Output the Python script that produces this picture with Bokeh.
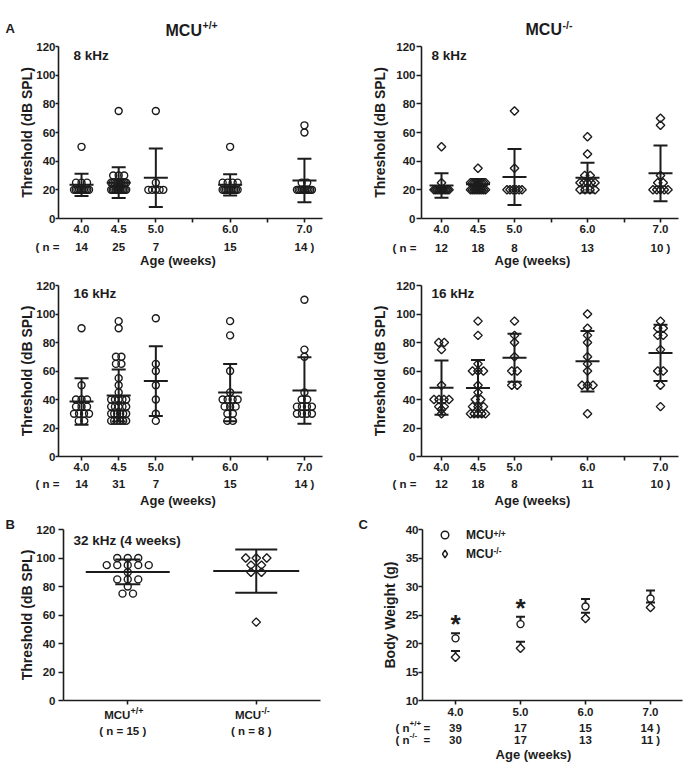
import math
from collections import Counter, defaultdict

from bokeh.plotting import figure
from bokeh.models import Label, FixedTicker, PrintfTickFormatter, Range1d, Legend, LegendItem, Title
from bokeh.layouts import column, row
from bokeh.core.properties import value
from bokeh.embed import file_html
from bokeh.resources import INLINE

FONT = "Liberation Sans"
INK = "#1c1c1c"

# ---------------- data ----------------
ages = [4.0, 4.5, 5.0, 6.0, 7.0]
age_minor = [5.5, 6.5]
thr_ticks = [0, 20, 40, 60, 80, 100, 120]

# A: 8 kHz, MCU+/+
thr8_wt = [
    [50, 25, 25, 25, 20, 20, 20, 20, 20, 20, 20, 20, 20, 20],
    [75, 30, 30, 30, 25, 25, 25, 25, 25, 25, 25, 25, 25, 25, 20, 20, 20, 20, 20, 20, 20, 20, 20, 20, 20],
    [75, 25, 20, 20, 20, 20, 20],
    [50, 25, 25, 25, 25, 20, 20, 20, 20, 20, 20, 20, 20, 20, 20],
    [65, 60, 25, 25, 20, 20, 20, 20, 20, 20, 20, 20, 20, 20],
]
thr8_wt_mean = [23.5, 25.0, 28.5, 23.5, 26.5]
thr8_wt_sd = [7.8, 10.7, 20.4, 7.4, 15.2]
thr8_wt_n = [14, 25, 7, 15, 14]

# A: 8 kHz, MCU-/-
thr8_ko = [
    [50, 25, 20, 20, 20, 20, 20, 20, 20, 20, 20, 20],
    [35, 25, 25, 25, 25, 25, 25, 25, 25, 20, 20, 20, 20, 20, 20, 20, 20, 20],
    [75, 35, 20, 20, 20, 20, 20, 20],
    [57, 45, 30, 30, 25, 25, 25, 25, 25, 20, 20, 20, 20],
    [70, 65, 30, 25, 25, 20, 20, 20, 20, 20],
]
thr8_ko_mean = [23.0, 23.9, 29.0, 28.5, 31.5]
thr8_ko_sd = [8.5, 3.6, 19.5, 10.4, 19.5]
thr8_ko_n = [12, 18, 8, 13, 10]

# A: 16 kHz, MCU+/+
thr16_wt = [
    [90, 50, 40, 40, 40, 35, 35, 35, 30, 30, 30, 30, 25, 25],
    [95, 90, 70, 70, 65, 65, 55, 50, 45, 40, 40, 40, 40, 40, 35, 35, 35, 35, 35,
     30, 30, 30, 30, 30, 30, 25, 25, 25, 25, 25, 25],
    [97, 65, 60, 50, 40, 30, 25],
    [95, 85, 60, 45, 40, 40, 40, 40, 35, 35, 35, 30, 30, 25, 25],
    [110, 75, 70, 45, 40, 40, 35, 35, 35, 35, 30, 30, 30, 30],
]
thr16_wt_mean = [38.6, 42.8, 52.9, 44.9, 46.3]
thr16_wt_sd = [16.4, 18.3, 24.5, 20.1, 23.4]
thr16_wt_n = [14, 31, 7, 15, 14]

# A: 16 kHz, MCU-/-
thr16_ko = [
    [80, 80, 75, 50, 40, 40, 40, 40, 35, 35, 33, 30],
    [95, 85, 65, 60, 60, 60, 50, 45, 40, 40, 35, 35, 35, 30, 30, 30, 30, 30],
    [95, 85, 80, 70, 60, 60, 50, 50],
    [100, 90, 85, 80, 70, 65, 60, 50, 50, 50, 30],
    [95, 90, 90, 85, 85, 75, 60, 60, 50, 35],
]
thr16_ko_mean = [48.3, 48.0, 69.3, 66.8, 72.7]
thr16_ko_sd = [19.0, 19.7, 16.8, 21.2, 19.8]
thr16_ko_n = [12, 18, 8, 11, 10]

# B: 32 kHz at 4 weeks
b_groups = ["+/+", "-/-"]
thr32 = [
    [100, 100, 100, 95, 95, 95, 95, 95, 90, 85, 85, 85, 80, 75, 75],
    [100, 100, 100, 95, 95, 90, 90, 55],
]
thr32_mean = [90.2, 90.8]
thr32_sd = [8.7, 15.2]
thr32_n = [15, 8]

# C: body weight (mean + SEM)
c_ages = [4.0, 5.0, 6.0, 7.0]
bw_ticks = [10, 15, 20, 25, 30, 35, 40]
bw_wt_mean = [20.9, 23.4, 26.5, 27.9]
bw_wt_sem = [0.9, 1.3, 1.3, 1.4]
bw_ko_mean = [17.6, 19.15, 24.4, 26.3]
bw_ko_sem = [1.1, 1.15, 1.0, 0.9]
bw_wt_n = [39, 17, 15, 14]
bw_ko_n = [30, 17, 13, 11]
bw_sig_ages = [4.0, 5.0]


# ---------------- helpers ----------------
def swarm(vals, center, ppu, step_px, max_px):
    counts = Counter(vals)
    seen = defaultdict(int)
    out = []
    for v in vals:
        k = counts[v]
        i = seen[v]
        seen[v] += 1
        step = min(step_px, max_px / (k - 1)) if k > 1 else 0.0
        out.append(center + (i - (k - 1) / 2.0) * step / ppu)
    return out


def make_fig(w, h, l, r, t, b, xr, yr, ytick_out, ylab_standoff, ytitle_standoff):
    p = figure(width=w, height=h, x_range=Range1d(*xr), y_range=Range1d(*yr),
               output_backend="svg", toolbar_location=None,
               min_border_left=l, min_border_right=r, min_border_top=t, min_border_bottom=b)
    p.outline_line_color = None
    p.xgrid.visible = False
    p.ygrid.visible = False
    p.background_fill_color = "white"
    p.border_fill_color = "white"
    for ax in (p.xaxis[0], p.yaxis[0]):
        ax.axis_line_color = INK
        ax.axis_line_width = 1.6
        ax.major_tick_line_color = INK
        ax.major_tick_line_width = 1.6
        ax.major_tick_in = 0
        ax.major_tick_out = 4
        ax.minor_tick_line_color = INK
        ax.minor_tick_line_width = 1.6
        ax.minor_tick_in = 0
        ax.minor_tick_out = 4
        ax.major_label_text_font = FONT
        ax.major_label_text_font_style = "bold"
        ax.major_label_text_font_size = "11.5px"
        ax.major_label_text_color = INK
        ax.axis_label_text_font = FONT
        ax.axis_label_text_font_style = "bold"
        ax.axis_label_text_color = INK
        ax.axis_label_text_font_size = "14px"
    p.yaxis[0].major_tick_out = ytick_out
    p.yaxis[0].major_label_standoff = ylab_standoff
    p.yaxis[0].axis_label_standoff = ytitle_standoff
    p.xaxis[0].major_label_standoff = 2
    return p


def band(w, h, x0=0.0, ppu=1.0):
    p = figure(width=w, height=h, x_range=Range1d(x0, x0 + w / ppu), y_range=Range1d(0, h),
               x_axis_type=None, y_axis_type=None, output_backend="svg", toolbar_location=None,
               min_border_left=0, min_border_right=0, min_border_top=0, min_border_bottom=0)
    p.outline_line_color = None
    p.background_fill_color = "white"
    p.border_fill_color = "white"
    return p


def lab(p, x, y, text, size, align="left", xu="screen", x_offset=0):
    p.add_layout(Label(x=x, y=y, x_units=xu, y_units="screen", x_offset=x_offset, text=text,
                       text_font=FONT, text_font_size=f"{size}px", text_font_style="bold",
                       text_align=align, text_baseline="middle", text_color=INK))


def band_text(p, xs, y, texts, size=11.5):
    p.text(x=xs, y=[y] * len(xs), text=texts, text_font=value(FONT), text_font_size=f"{size}px",
           text_font_style="bold", text_align="center", text_baseline="middle", text_color=INK)


def draw_marks(p, xs, ys, marker, fill=None):
    if marker == "circle":
        return p.scatter(xs, ys, marker="circle", size=7, fill_color=fill,
                         line_color=INK, line_width=1.4)
    return p.scatter(xs, ys, marker="square", angle=math.pi / 4, size=6, fill_color=fill,
                     line_color=INK, line_width=1.4)


def mean_sd(p, xs, means, sds, ppu, mean_px, cap_px):
    lo = [m - s for m, s in zip(means, sds)]
    hi = [m + s for m, s in zip(means, sds)]
    mw = [w / ppu for w in mean_px]
    cw = [w / ppu for w in cap_px]
    kw = dict(line_color=INK, line_width=2)
    p.segment(x0=xs, y0=lo, x1=xs, y1=hi, **kw)
    p.segment(x0=[x - w for x, w in zip(xs, mw)], y0=means, x1=[x + w for x, w in zip(xs, mw)], y1=means, **kw)
    p.segment(x0=[x - w for x, w in zip(xs, cw)], y0=hi, x1=[x + w for x, w in zip(xs, cw)], y1=hi, **kw)
    p.segment(x0=[x - w for x, w in zip(xs, cw)], y0=lo, x1=[x + w for x, w in zip(xs, cw)], y1=lo, **kw)


def threshold_panel(p, groups, means, sds, marker, ppu, freq_text, freq_x):
    xs, ys = [], []
    for a, vals in zip(ages, groups):
        xs += swarm(vals, a, ppu, 5.5, 15)
        ys += vals
    draw_marks(p, xs, ys, marker)
    mean_sd(p, ages, means, sds, ppu, [12] * len(ages), [7] * len(ages))
    p.yaxis[0].ticker = FixedTicker(ticks=thr_ticks)
    p.yaxis[0].axis_label = "Threshold (dB SPL)"
    p.xaxis[0].ticker = FixedTicker(ticks=ages, minor_ticks=age_minor)
    p.xaxis[0].formatter = PrintfTickFormatter(format="%.1f")
    lab(p, freq_x, 163.5, freq_text, 13.5)


def count_band(p, ns, n_x, n_y, age_x, age_y):
    lab(p, n_x, n_y, "( n =", 11.5)
    texts = [f"{n}" for n in ns]
    texts[-1] += " )"
    band_text(p, ages, n_y, texts)
    lab(p, age_x, age_y, "Age (weeks)", 13, align="center")


# ---------------- geometry ----------------
WL, WR = 340, 345
XL = (3.69, 3.69 + 264 / 74.3)
XR = (3.726, 3.726 + 257 / 73.0)
PPU_L = 74.3
PPU_R = 73.0

# ---------------- top band: panel letter and genotype titles ----------------
top = band(WL + WR, 38)
lab(top, 5, 10.5, "A", 13)
lab(top, 165, 8.5, "MCU", 16)
lab(top, 202, 13.5, "+/+", 10.5)
lab(top, 525, 9, "MCU", 16)
lab(top, 562, 13.5, "-/-", 10.5)

# ---------------- panel A ----------------
p1 = make_fig(WL, 200, 58, 18, 8, 20, XL, (0, 120), 3, 0, -2)
threshold_panel(p1, thr8_wt, thr8_wt_mean, thr8_wt_sd, "circle", PPU_L, "8 kHz", 15)
p2 = make_fig(WR, 200, 81, 7, 8, 20, XR, (0, 120), 5, 1, 5)
threshold_panel(p2, thr8_ko, thr8_ko_mean, thr8_ko_sd, "diamond", PPU_R, "8 kHz", 10)

b1l = band(WL, 32, XL[0] - 58 / PPU_L, PPU_L)
count_band(b1l, thr8_wt_n, 35, 24, 177.5, 10)
b1r = band(WR, 32, XR[0] - 81 / PPU_R, PPU_R)
count_band(b1r, thr8_ko_n, 52, 23, 192, 10)

p3 = make_fig(WL, 206, 58, 18, 15, 20, XL, (0, 120), 3, 0, -2)
threshold_panel(p3, thr16_wt, thr16_wt_mean, thr16_wt_sd, "circle", PPU_L, "16 kHz", 15)
p4 = make_fig(WR, 206, 81, 7, 15, 20, XR, (0, 120), 5, 1, 5)
threshold_panel(p4, thr16_ko, thr16_ko_mean, thr16_ko_sd, "diamond", PPU_R, "16 kHz", 10)

b2l = band(WL, 34, XL[0] - 58 / PPU_L, PPU_L)
count_band(b2l, thr16_wt_n, 35, 27, 177.5, 10)
b2r = band(WR, 34, XR[0] - 81 / PPU_R, PPU_R)
count_band(b2r, thr16_ko_n, 52, 27, 192, 10)

# ---------------- panel B ----------------
PPU_B = 257 / 2.0
p5 = make_fig(WL, 196, 63, 20, 19, 6, (0.5, 2.5), (0, 120), 5, 3, -2)
b_x = [i + 1 for i in range(len(b_groups))]
for xc, vals, mk in zip(b_x, thr32, ["circle", "diamond"]):
    draw_marks(p5, swarm(vals, xc, PPU_B, 10.5, 62), vals, mk)
mean_sd(p5, b_x, thr32_mean, thr32_sd, PPU_B, [42, 43], [12.5, 21])
p5.yaxis[0].ticker = FixedTicker(ticks=thr_ticks)
p5.yaxis[0].axis_label = "Threshold (dB SPL)"
p5.xaxis[0].ticker = FixedTicker(ticks=[], minor_ticks=b_x)
p5.xaxis[0].major_label_standoff = 0
lab(p5, 10, 160, "32 kHz (4 weeks)", 13.5)
p5.add_layout(Title(text="B", align="left", offset=-58, standoff=-4, text_font=FONT,
                    text_font_size="13px", text_font_style="bold", text_color=INK), "above")

b3l = band(WL, 59, 0.5 - 63 / PPU_B, PPU_B)
sup_w = {"+/+": 13.0, "-/-": 8.5}
for xc, g, n in zip(b_x, b_groups, thr32_n):
    left = -(26.2 + sup_w[g]) / 2 - 4
    lab(b3l, xc, 51, "MCU", 11.5, xu="data", x_offset=left)
    lab(b3l, xc, 54.5, g, 9, xu="data", x_offset=left + 26.4)
    lab(b3l, xc, 35, f"( n = {n} )", 11.5, align="center", xu="data", x_offset=-5)

# ---------------- panel C ----------------
PPU_C = 65.0
XC = (4.0 - 33 / PPU_C, 4.0 - 33 / PPU_C + 260 / PPU_C)
p6 = make_fig(WR, 196, 82, 3, 19, 6, XC, (10, 40), 4, 0, 5)
cap_c = 4.5 / PPU_C
kw = dict(line_color=INK, line_width=2)
for means, sems in ((bw_wt_mean, bw_wt_sem), (bw_ko_mean, bw_ko_sem)):
    tops = [m + s for m, s in zip(means, sems)]
    p6.segment(x0=c_ages, y0=means, x1=c_ages, y1=tops, **kw)
    p6.segment(x0=[a - cap_c for a in c_ages], y0=tops, x1=[a + cap_c for a in c_ages], y1=tops, **kw)
r_wt = draw_marks(p6, c_ages, bw_wt_mean, "circle", fill="white")
draw_marks(p6, c_ages, bw_ko_mean, "diamond", fill="white")
# legend key for the knockout series (zero-size on the plot, drawn only in the legend)
r_ko_key = p6.scatter(x=c_ages, y=bw_ko_mean, marker="diamond", size=0,
                      fill_color="white", line_color=INK, line_width=1.4)
sig_y = [bw_wt_mean[c_ages.index(a)] + bw_wt_sem[c_ages.index(a)] + 2.3 for a in bw_sig_ages]
p6.text(x=bw_sig_ages, y=sig_y, text=["*"] * len(bw_sig_ages), text_font=value(FONT),
        text_font_size="26px", text_font_style="bold", text_align="center",
        text_baseline="alphabetic", y_offset=4, text_color=INK)
p6.yaxis[0].ticker = FixedTicker(ticks=bw_ticks)
p6.yaxis[0].axis_label = "Body Weight (g)"
p6.xaxis[0].ticker = FixedTicker(ticks=[], minor_ticks=c_ages)
p6.xaxis[0].major_label_standoff = 0

legend = Legend(items=[LegendItem(label=value("MCU"), renderers=[r_wt]),
                       LegendItem(label=value("MCU"), renderers=[r_ko_key])],
                location=(13, 137), padding=0, margin=0, spacing=0,
                glyph_width=19, glyph_height=19, label_standoff=12,
                label_text_font=FONT, label_text_font_style="bold", label_text_font_size="12px",
                label_text_color=INK, border_line_color=None, background_fill_alpha=0)
p6.add_layout(legend)
lab(p6, 71, 167, "+/+", 8.5)
lab(p6, 71, 150, "-/-", 8.5)
p6.add_layout(Title(text="C", align="left", offset=-64, standoff=-4, text_font=FONT,
                    text_font_size="13px", text_font_style="bold", text_color=INK), "above")

b3r = band(WR, 59, XC[0] - 82 / PPU_C, PPU_C)
band_text(b3r, c_ages, 54, [f"{a:.1f}" for a in c_ages])
lab(b3r, 55, 38, "( n", 11.5)
lab(b3r, 69, 42, "+/+", 8)
lab(b3r, 83, 38, "=", 11.5)
lab(b3r, 55, 26, "( n", 11.5)
lab(b3r, 69, 30, "-/-", 8)
lab(b3r, 83, 26, "=", 11.5)
wt_txt = [f"{n}" for n in bw_wt_n]
ko_txt = [f"{n}" for n in bw_ko_n]
wt_txt[-1] += " )"
ko_txt[-1] += " )"
band_text(b3r, c_ages, 38, wt_txt)
band_text(b3r, c_ages, 26, ko_txt)
lab(b3r, 193, 11, "Age (weeks)", 13, align="center")

layout = column(top, row(p1, p2), row(b1l, b1r), row(p3, p4), row(b2l, b2r),
                row(p5, p6), row(b3l, b3r))
open("out.html", "w").write(file_html(layout, INLINE))
